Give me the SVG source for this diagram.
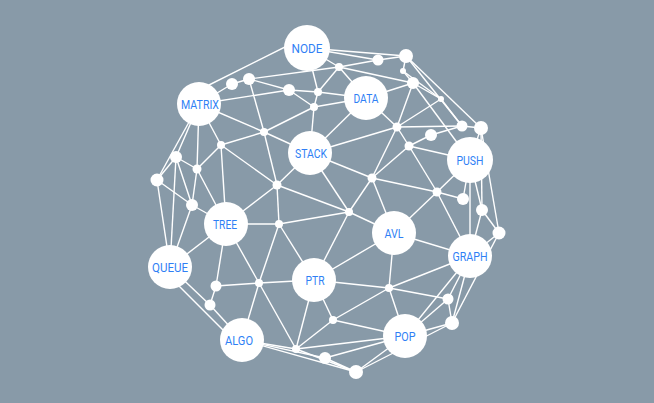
<svg xmlns="http://www.w3.org/2000/svg" width="654" height="403" viewBox="0 0 654 403">
<style>
.e line{stroke:#fff;stroke-width:1.4;fill:none}
.big{fill:#fff}
.sm{fill:#fff}
.t{font-family:Roboto,"Liberation Sans",sans-serif;font-size:13px;fill:#2f7ff5;text-anchor:middle}
</style>
<rect x="0" y="0" width="654" height="403" fill="#889aa8"/>
<g id="connectors" class="e">
<line x1="307" y1="48" x2="406" y2="56"/>
<line x1="307" y1="48" x2="378" y2="60"/>
<line x1="307" y1="48" x2="339" y2="67"/>
<line x1="307" y1="36" x2="199" y2="90"/>
<line x1="307" y1="48" x2="318" y2="92"/>
<line x1="378" y1="60" x2="406" y2="56"/>
<line x1="339" y1="67" x2="378" y2="60"/>
<line x1="339" y1="67" x2="413" y2="83"/>
<line x1="339" y1="67" x2="318" y2="92"/>
<line x1="339" y1="67" x2="366" y2="98"/>
<line x1="249" y1="79" x2="339" y2="67"/>
<line x1="232" y1="84" x2="249" y2="79"/>
<line x1="199" y1="104" x2="232" y2="84"/>
<line x1="249" y1="79" x2="289" y2="90"/>
<line x1="289" y1="90" x2="318" y2="92"/>
<line x1="318" y1="92" x2="366" y2="98"/>
<line x1="318" y1="92" x2="314" y2="107"/>
<line x1="314" y1="107" x2="366" y2="98"/>
<line x1="314" y1="107" x2="310" y2="153"/>
<line x1="314" y1="107" x2="264" y2="132"/>
<line x1="289" y1="90" x2="314" y2="107"/>
<line x1="199" y1="104" x2="289" y2="90"/>
<line x1="249" y1="79" x2="264" y2="132"/>
<line x1="199" y1="104" x2="264" y2="132"/>
<line x1="264" y1="132" x2="221" y2="145"/>
<line x1="264" y1="132" x2="277" y2="185"/>
<line x1="264" y1="132" x2="310" y2="153"/>
<line x1="406" y1="56" x2="403" y2="71"/>
<line x1="406" y1="56" x2="481" y2="128"/>
<line x1="406" y1="56" x2="462" y2="126"/>
<line x1="403" y1="71" x2="413" y2="83"/>
<line x1="403" y1="71" x2="441" y2="99"/>
<line x1="413" y1="83" x2="366" y2="98"/>
<line x1="413" y1="83" x2="441" y2="99"/>
<line x1="441" y1="99" x2="462" y2="126"/>
<line x1="413" y1="83" x2="397" y2="127"/>
<line x1="441" y1="99" x2="397" y2="127"/>
<line x1="366" y1="98" x2="397" y2="127"/>
<line x1="397" y1="127" x2="462" y2="126"/>
<line x1="397" y1="127" x2="409" y2="146"/>
<line x1="409" y1="146" x2="431" y2="135"/>
<line x1="431" y1="135" x2="462" y2="126"/>
<line x1="397" y1="127" x2="310" y2="153"/>
<line x1="397" y1="127" x2="372" y2="178"/>
<line x1="409" y1="146" x2="372" y2="178"/>
<line x1="409" y1="146" x2="470" y2="160"/>
<line x1="413" y1="83" x2="470" y2="160"/>
<line x1="462" y1="126" x2="481" y2="128"/>
<line x1="481" y1="128" x2="470" y2="160"/>
<line x1="481" y1="128" x2="499" y2="233"/>
<line x1="481" y1="128" x2="482" y2="210"/>
<line x1="409" y1="146" x2="437" y2="192"/>
<line x1="372" y1="178" x2="437" y2="192"/>
<line x1="310" y1="153" x2="372" y2="178"/>
<line x1="366" y1="98" x2="310" y2="153"/>
<line x1="437" y1="192" x2="470" y2="160"/>
<line x1="437" y1="192" x2="463" y2="199"/>
<line x1="437" y1="192" x2="394" y2="233"/>
<line x1="437" y1="192" x2="470" y2="256"/>
<line x1="470" y1="160" x2="463" y2="199"/>
<line x1="470" y1="160" x2="482" y2="210"/>
<line x1="470" y1="160" x2="470" y2="256"/>
<line x1="482" y1="210" x2="499" y2="233"/>
<line x1="482" y1="210" x2="470" y2="256"/>
<line x1="499" y1="233" x2="470" y2="256"/>
<line x1="394" y1="233" x2="470" y2="256"/>
<line x1="394" y1="233" x2="372" y2="178"/>
<line x1="394" y1="233" x2="349" y2="212"/>
<line x1="394" y1="233" x2="389" y2="288"/>
<line x1="394" y1="233" x2="314" y2="280"/>
<line x1="372" y1="178" x2="349" y2="212"/>
<line x1="310" y1="153" x2="349" y2="212"/>
<line x1="277" y1="185" x2="349" y2="212"/>
<line x1="279" y1="224" x2="349" y2="212"/>
<line x1="349" y1="212" x2="314" y2="280"/>
<line x1="310" y1="153" x2="277" y2="185"/>
<line x1="277" y1="185" x2="279" y2="224"/>
<line x1="221" y1="145" x2="277" y2="185"/>
<line x1="277" y1="185" x2="226" y2="224"/>
<line x1="279" y1="224" x2="226" y2="224"/>
<line x1="279" y1="224" x2="259" y2="283"/>
<line x1="279" y1="224" x2="314" y2="280"/>
<line x1="470" y1="256" x2="389" y2="288"/>
<line x1="470" y1="256" x2="448" y2="299"/>
<line x1="470" y1="256" x2="452" y2="323"/>
<line x1="470" y1="256" x2="405" y2="336"/>
<line x1="499" y1="233" x2="452" y2="323"/>
<line x1="389" y1="288" x2="448" y2="299"/>
<line x1="389" y1="288" x2="405" y2="336"/>
<line x1="389" y1="288" x2="333" y2="320"/>
<line x1="389" y1="288" x2="314" y2="280"/>
<line x1="448" y1="299" x2="405" y2="336"/>
<line x1="448" y1="299" x2="452" y2="323"/>
<line x1="452" y1="323" x2="405" y2="336"/>
<line x1="452" y1="323" x2="356" y2="372"/>
<line x1="333" y1="320" x2="405" y2="336"/>
<line x1="333" y1="320" x2="314" y2="280"/>
<line x1="333" y1="320" x2="296" y2="349"/>
<line x1="314" y1="280" x2="296" y2="349"/>
<line x1="314" y1="280" x2="259" y2="283"/>
<line x1="259" y1="283" x2="216" y2="286"/>
<line x1="259" y1="283" x2="296" y2="349"/>
<line x1="259" y1="283" x2="242" y2="340"/>
<line x1="259" y1="283" x2="226" y2="224"/>
<line x1="226" y1="224" x2="216" y2="286"/>
<line x1="216" y1="286" x2="210" y2="305"/>
<line x1="170" y1="267" x2="210" y2="305"/>
<line x1="165" y1="272" x2="238" y2="345"/>
<line x1="210" y1="305" x2="242" y2="340"/>
<line x1="242" y1="340" x2="296" y2="349"/>
<line x1="242" y1="340" x2="325" y2="358"/>
<line x1="242" y1="340" x2="356" y2="372"/>
<line x1="296" y1="349" x2="356" y2="372"/>
<line x1="296" y1="349" x2="405" y2="336"/>
<line x1="325" y1="358" x2="356" y2="372"/>
<line x1="325" y1="358" x2="405" y2="336"/>
<line x1="356" y1="372" x2="405" y2="336"/>
<line x1="199" y1="104" x2="176" y2="157"/>
<line x1="199" y1="104" x2="197" y2="169"/>
<line x1="199" y1="104" x2="157" y2="180"/>
<line x1="199" y1="104" x2="221" y2="145"/>
<line x1="221" y1="145" x2="197" y2="169"/>
<line x1="221" y1="145" x2="226" y2="224"/>
<line x1="176" y1="157" x2="197" y2="169"/>
<line x1="176" y1="157" x2="157" y2="180"/>
<line x1="176" y1="157" x2="192" y2="205"/>
<line x1="176" y1="157" x2="170" y2="267"/>
<line x1="157" y1="180" x2="192" y2="205"/>
<line x1="157" y1="180" x2="170" y2="267"/>
<line x1="197" y1="169" x2="226" y2="224"/>
<line x1="197" y1="169" x2="192" y2="205"/>
<line x1="192" y1="205" x2="226" y2="224"/>
<line x1="192" y1="205" x2="170" y2="267"/>
<line x1="226" y1="224" x2="170" y2="267"/>
</g>
<g id="small-nodes" class="sm">
<circle cx="406" cy="56" r="7"/>
<circle cx="378" cy="60" r="5.5"/>
<circle cx="339" cy="67" r="4"/>
<circle cx="403" cy="71" r="3"/>
<circle cx="413" cy="83" r="6"/>
<circle cx="441" cy="99" r="3"/>
<circle cx="232" cy="84" r="6"/>
<circle cx="249" cy="79" r="6"/>
<circle cx="289" cy="90" r="6"/>
<circle cx="318" cy="92" r="4"/>
<circle cx="314" cy="107" r="4"/>
<circle cx="264" cy="132" r="4"/>
<circle cx="397" cy="127" r="4.5"/>
<circle cx="462" cy="126" r="5.5"/>
<circle cx="481" cy="128" r="7"/>
<circle cx="431" cy="135" r="6"/>
<circle cx="409" cy="146" r="4.5"/>
<circle cx="221" cy="145" r="4"/>
<circle cx="176" cy="157" r="6"/>
<circle cx="197" cy="169" r="4.5"/>
<circle cx="157" cy="180" r="6.5"/>
<circle cx="277" cy="185" r="4.5"/>
<circle cx="372" cy="178" r="4.5"/>
<circle cx="437" cy="192" r="4.5"/>
<circle cx="463" cy="199" r="6"/>
<circle cx="482" cy="210" r="6"/>
<circle cx="192" cy="205" r="6"/>
<circle cx="349" cy="212" r="4"/>
<circle cx="279" cy="224" r="4"/>
<circle cx="499" cy="233" r="6.5"/>
<circle cx="216" cy="286" r="5.5"/>
<circle cx="259" cy="283" r="4"/>
<circle cx="210" cy="305" r="5.5"/>
<circle cx="389" cy="288" r="4"/>
<circle cx="448" cy="299" r="5.5"/>
<circle cx="333" cy="320" r="4"/>
<circle cx="452" cy="323" r="7"/>
<circle cx="296" cy="349" r="4"/>
<circle cx="325" cy="358" r="6"/>
<circle cx="356" cy="372" r="7"/>
</g>
<g id="node-NODE"><circle class="big" cx="307" cy="48" r="23"/><text class="t" x="307" y="52.5" textLength="31" lengthAdjust="spacingAndGlyphs">NODE</text></g>
<g id="node-MATRIX"><circle class="big" cx="199" cy="104" r="22"/><text class="t" x="200" y="108.5" textLength="38" lengthAdjust="spacingAndGlyphs">MATRIX</text></g>
<g id="node-DATA"><circle class="big" cx="366" cy="98" r="22"/><text class="t" x="366" y="102.5" textLength="25" lengthAdjust="spacingAndGlyphs">DATA</text></g>
<g id="node-STACK"><circle class="big" cx="310" cy="153" r="22"/><text class="t" x="311" y="157.5" textLength="32" lengthAdjust="spacingAndGlyphs">STACK</text></g>
<g id="node-PUSH"><circle class="big" cx="470" cy="160" r="23"/><text class="t" x="470" y="164.5" textLength="27" lengthAdjust="spacingAndGlyphs">PUSH</text></g>
<g id="node-TREE"><circle class="big" cx="226" cy="224" r="22"/><text class="t" x="225" y="228.5" textLength="24" lengthAdjust="spacingAndGlyphs">TREE</text></g>
<g id="node-AVL"><circle class="big" cx="394" cy="233" r="22"/><text class="t" x="394" y="237.5" textLength="19" lengthAdjust="spacingAndGlyphs">AVL</text></g>
<g id="node-QUEUE"><circle class="big" cx="170" cy="267" r="22"/><text class="t" x="170" y="271.5" textLength="36" lengthAdjust="spacingAndGlyphs">QUEUE</text></g>
<g id="node-GRAPH"><circle class="big" cx="470" cy="256" r="22"/><text class="t" x="470" y="260.5" textLength="35" lengthAdjust="spacingAndGlyphs">GRAPH</text></g>
<g id="node-PTR"><circle class="big" cx="314" cy="280" r="22"/><text class="t" x="315" y="284.5" textLength="19" lengthAdjust="spacingAndGlyphs">PTR</text></g>
<g id="node-ALGO"><circle class="big" cx="242" cy="340" r="22"/><text class="t" x="239" y="344.5" textLength="28" lengthAdjust="spacingAndGlyphs">ALGO</text></g>
<g id="node-POP"><circle class="big" cx="405" cy="336" r="22"/><text class="t" x="405" y="340.5" textLength="21" lengthAdjust="spacingAndGlyphs">POP</text></g>
</svg>
